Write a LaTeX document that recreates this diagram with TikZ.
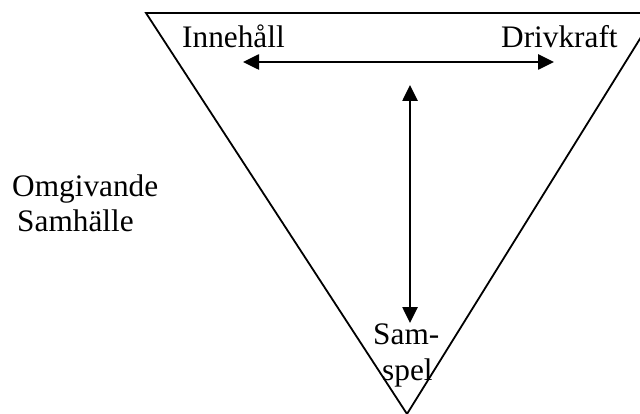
\documentclass[tikz,border=0pt]{standalone}
\usepackage{fontspec}
\setmainfont{Liberation Serif}
\usetikzlibrary{arrows.meta}
\begin{document}
\begin{tikzpicture}[x=1pt,y=-1pt,
  lbl/.style={anchor=base west,inner sep=0pt,font=\fontsize{31.3}{35}\selectfont},
  tri/.style={draw=black,line width=1.8pt},
  dblarrow/.style={line width=2.6pt,{Triangle[length=16pt,width=15pt]}-{Triangle[length=16pt,width=15pt]}}]
\useasboundingbox (0,0) rectangle (640,414);
\clip (0,0) rectangle (640,414);
\coordinate (tl) at (146,13);
\coordinate (tr) at (656,13);
\coordinate (b) at (407,414);
\draw[tri] (tl) -- (tr) -- (b) -- cycle;
\node[lbl] (inn) at (182,48) {Innehåll};
\node[lbl] (drv) at (501,48) {Drivkraft};
\node[lbl] (omg) at (12,197) {Omgivande};
\node[lbl] (sam) at (17,232) {Samhälle};
\node[lbl] (sp1) at (373,344) {Sam-};
\node[lbl] (sp2) at (382,380) {spel};
\coordinate (hl) at (243,62);
\coordinate (hr) at (554,62);
\coordinate (vt) at (410,85);
\coordinate (vb) at (410,323);
\draw[dblarrow] (hl) -- (hr);
\draw[dblarrow] (vt) -- (vb);
\end{tikzpicture}
\end{document}
